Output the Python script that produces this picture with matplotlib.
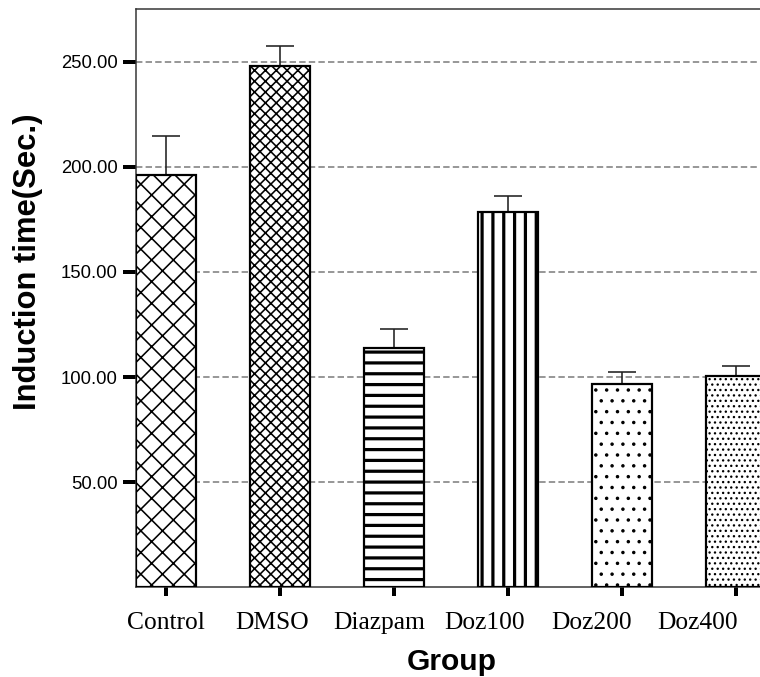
import numpy as np
import matplotlib.pyplot as plt

groups = ["Control", "DMSO", "Diazpam", "Doz100", "Doz200", "Doz400"]
means = [196.0, 247.8, 113.9, 178.4, 96.6, 100.3]
errors = [18.6, 9.5, 8.9, 7.6, 5.7, 4.9]
hatches = ["x", "xx", "-", "|", ".", ".."]
yticks = [50, 100, 150, 200, 250]

DPI = 65


def px(p):
    # pixel size -> points at this dpi
    return p * 72.0 / DPI


fig = plt.figure(figsize=(760 / DPI, 677 / DPI), dpi=DPI)
ax = fig.add_axes([136 / 760, 89.7 / 677, 630 / 760, 578.3 / 677])

x = np.arange(len(groups))
width = 0.53

for i in range(len(groups)):
    if hatches[i] in ("-", "|"):
        hlw = px(3.2)
    elif "." in hatches[i]:
        hlw = px(1.3)
    else:
        hlw = px(1.6)
    with plt.rc_context({"hatch.linewidth": hlw, "hatch.color": "black"}):
        ax.bar(x[i], means[i], width=width, color="white",
               edgecolor="black", linewidth=px(2.2), hatch=hatches[i],
               zorder=3)

ax.errorbar(x, means, yerr=[np.zeros(len(errors)), errors], fmt="none",
            ecolor="#222222", elinewidth=px(1.6), capsize=px(14),
            capthick=px(1.6), zorder=2)

ax.set_xlim(-0.265, 5.265)
ax.set_ylim(0, 275)
ax.set_yticks(yticks)
ax.set_yticklabels([f"{v:.2f}" for v in yticks], fontsize=px(18.5),
                   family="Liberation Sans")
ax.set_xticks(x)
ax.set_xticklabels([])

# group names sit a little left of their ticks, as in the original
label_pos = x * 0.933
for xp, name in zip(label_pos, groups):
    ax.text(xp, -42 / 578.3, name, transform=ax.get_xaxis_transform(),
            ha="center", va="baseline", fontsize=px(25.5),
            family="Liberation Serif", clip_on=False)

ax.tick_params(axis="y", direction="out", length=px(13), width=px(4),
               pad=px(5), color="black")
ax.tick_params(axis="x", direction="out", length=px(9), width=px(4),
               color="black")

ax.yaxis.grid(True, color="#808080", linestyle=(0, (4, 2)),
              linewidth=px(1.6), zorder=0)
ax.set_axisbelow(True)

for s in ["left", "top", "bottom"]:
    ax.spines[s].set_color("#333333")
    ax.spines[s].set_linewidth(px(1.5))
ax.spines["right"].set_visible(False)

fig.text(28 / 760, 1 - 262 / 677, "Induction time(Sec.)", rotation=90,
         ha="center", va="center", fontsize=px(31), fontweight="bold",
         family="Liberation Sans")
fig.text(452 / 760, 1 - 670 / 677, "Group", ha="center", va="baseline",
         fontsize=px(30), fontweight="bold", family="Liberation Sans")

fig.savefig("out.png", dpi=DPI)
